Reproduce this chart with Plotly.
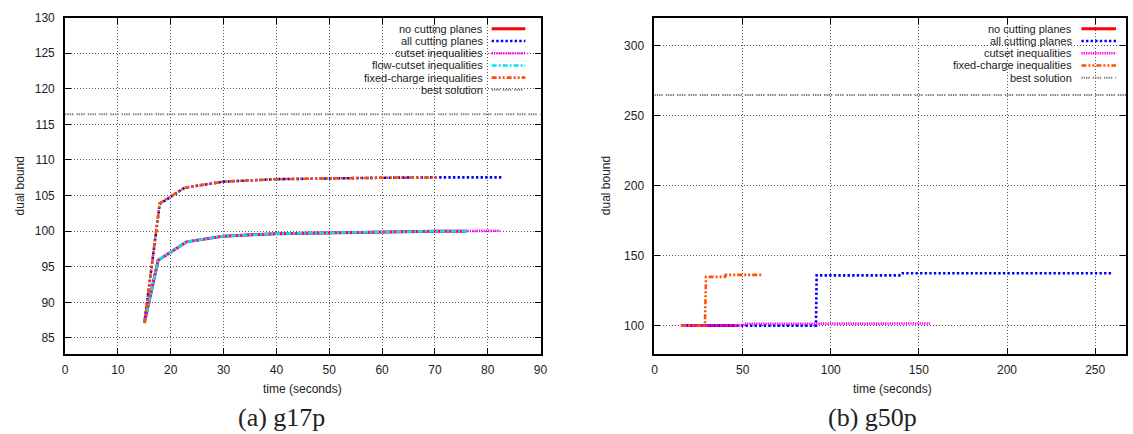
import plotly.graph_objects as go

W, H = 1133, 434

# ---------------- data: (a) g17p ----------------
a_no_cut_t = [15.0, 17.6, 23.0, 30.0, 40.0, 50.0, 60.0, 70.0, 76.0]
a_no_cut_v = [87.1, 95.9, 98.5, 99.3, 99.65, 99.8, 99.9, 100.0, 100.0]
a_all_t = [15.0, 17.9, 22.6, 30.0, 40.0, 50.0, 60.0, 70.0, 82.8]
a_all_v = [87.1, 103.8, 106.1, 106.95, 107.3, 107.45, 107.5, 107.55, 107.55]
a_cutset_t = [15.0, 17.6, 23.0, 30.0, 40.0, 50.0, 60.0, 70.0, 82.4]
a_cutset_v = [87.1, 95.9, 98.5, 99.3, 99.65, 99.8, 99.9, 100.0, 100.05]
a_flow_t = [15.0, 17.6, 23.0, 30.0, 40.0, 50.0, 60.0, 70.0, 76.0]
a_flow_v = [87.1, 95.9, 98.5, 99.3, 99.65, 99.8, 99.9, 100.0, 100.0]
a_fixed_t = [15.0, 17.9, 22.6, 30.0, 40.0, 50.0, 60.0, 70.4]
a_fixed_v = [87.1, 103.9, 106.1, 106.95, 107.3, 107.45, 107.5, 107.55]
a_best = 116.4
a_xrange = [0, 90]
a_yrange = [82.8, 130]
a_yticks = [85, 90, 95, 100, 105, 110, 115, 120, 125, 130]

# ---------------- data: (b) g50p ----------------
b_no_cut_t = [15.0, 46.0]
b_no_cut_v = [100.0, 100.0]
b_all_t = [15.0, 91.6, 92.0, 140.0, 140.8, 260.2]
b_all_v = [100.0, 100.0, 135.9, 135.9, 137.4, 137.4]
b_cutset_t = [15.0, 50.0, 51.0, 156.6]
b_cutset_v = [100.0, 100.2, 101.3, 101.5]
b_fixed_t = [15.2, 28.6, 29.2, 40.0, 40.4, 60.6]
b_fixed_v = [100.0, 100.0, 134.8, 134.8, 136.2, 136.2]
b_best = 264.7
b_xrange = [0, 267.5]
b_yrange = [80, 320]
b_yticks = [100, 150, 200, 250, 300]

legend_a = ["no cutting planes", "all cutting planes", "cutset inequalities",
            "flow-cutset inequalities", "fixed-charge inequalities", "best solution"]
legend_b = ["no cutting planes", "all cutting planes", "cutset inequalities",
            "fixed-charge inequalities", "best solution"]

captions = ["(a) g17p", "(b) g50p"]

# ---------------- styles ----------------
STY = {
    "no cutting planes": dict(color="#ff0000", width=3, dash="solid"),
    "all cutting planes": dict(color="#0000ff", width=2.6, dash="2.4px,2.2px"),
    "cutset inequalities": dict(color="#ff00ff", width=2.6, dash="1.3px,1px"),
    "flow-cutset inequalities": dict(color="#00e5ee", width=2.6, dash="5px,2px,2px,2px"),
    "fixed-charge inequalities": dict(color="#ff5000", width=2.6, dash="5px,2px,2px,2px,2px,2px"),
    "best solution": dict(color="#808080", width=2,
                          dash="1.4px,0.9px,1.4px,0.9px,1.4px,0.9px,1.4px,3px"),
}

FONT = "Liberation Sans, Arial, sans-serif"


def px(x):
    return x / W


def py(y):
    return 1 - y / H


fig = go.Figure()


def add(name, t, v, xa, ya):
    s = STY[name]
    fig.add_trace(go.Scatter(x=t, y=v, mode="lines", name=name, showlegend=False,
                             xaxis=xa, yaxis=ya,
                             line=dict(color=s["color"], width=s["width"], dash=s["dash"])))


# panel a (gnuplot draw order)
add("no cutting planes", a_no_cut_t, a_no_cut_v, "x", "y")
add("all cutting planes", a_all_t, a_all_v, "x", "y")
add("cutset inequalities", a_cutset_t, a_cutset_v, "x", "y")
add("flow-cutset inequalities", a_flow_t, a_flow_v, "x", "y")
add("fixed-charge inequalities", a_fixed_t, a_fixed_v, "x", "y")
add("best solution", a_xrange, [a_best, a_best], "x", "y")

# panel b
add("no cutting planes", b_no_cut_t, b_no_cut_v, "x2", "y2")
add("all cutting planes", b_all_t, b_all_v, "x2", "y2")
add("cutset inequalities", b_cutset_t, b_cutset_v, "x2", "y2")
add("fixed-charge inequalities", b_fixed_t, b_fixed_v, "x2", "y2")
add("best solution", b_xrange, [b_best, b_best], "x2", "y2")

axis_common = dict(
    showline=True, linecolor="black", linewidth=2, mirror="ticks",
    ticks="inside", ticklen=6, tickwidth=1.3, tickcolor="black",
    showgrid=True, gridcolor="#555555", gridwidth=1, griddash="1px,2px",
    zeroline=False, tickfont=dict(family=FONT, size=12, color="#222222"),
)

A_L, A_R = 62.7, 542.3
B_L, B_R = 657.3, 1133
TOP, BOT = 10.7, 352.3

fig.update_layout(
    width=W, height=H, autosize=False,
    margin=dict(l=0, r=0, t=0, b=0),
    paper_bgcolor="white", plot_bgcolor="white",
    xaxis=dict(domain=[px(A_L), px(A_R)], range=a_xrange, dtick=10, tick0=0,
               anchor="y", ticklabelstandoff=4, **axis_common),
    yaxis=dict(domain=[py(BOT), py(TOP)], range=a_yrange, tickvals=a_yticks,
               anchor="x", ticklabelstandoff=6, **axis_common),
    xaxis2=dict(domain=[px(B_L), px(B_R)], range=b_xrange, dtick=50, tick0=0,
                anchor="y2", ticklabelstandoff=4, **axis_common),
    yaxis2=dict(domain=[py(BOT), py(TOP)], range=b_yrange, tickvals=b_yticks,
                anchor="x2", ticklabelstandoff=6, **axis_common),
)

shapes = []
annotations = []

# white legend boxes (cover grid)
shapes.append(dict(type="rect", xref="paper", yref="paper", layer="between",
                   x0=px(323), x1=px(A_R - 2), y0=py(88), y1=py(TOP + 1.5),
                   fillcolor="white", line=dict(width=0)))
shapes.append(dict(type="rect", xref="paper", yref="paper", layer="between",
                   x0=px(918), x1=px(B_R), y0=py(76), y1=py(TOP + 1.5),
                   fillcolor="white", line=dict(width=0)))

LEG_STEP = 12.4


def legend(names, text_right, s0, s1, y0):
    for i, n in enumerate(names):
        yy = y0 + LEG_STEP * i
        annotations.append(dict(x=px(text_right), y=py(yy), xref="paper", yref="paper",
                                text=n, showarrow=False, xanchor="right", yanchor="middle",
                                borderpad=0,
                                font=dict(family=FONT, size=11, color="#222222")))
        s = STY[n]
        shapes.append(dict(type="line", xref="paper", yref="paper", layer="above",
                           x0=px(s0), x1=px(s1), y0=py(yy), y1=py(yy),
                           line=dict(color=s["color"], width=s["width"], dash=s["dash"])))


legend(legend_a, 485, 493, 527, 22.2)
legend(legend_b, 1080, 1088, 1123, 22.2)

# axis titles
for xc in (17, 608):
    annotations.append(dict(x=px(xc), y=py((TOP + BOT) / 2), xref="paper", yref="paper",
                            text="dual bound", textangle=-90, showarrow=False,
                            xanchor="center", yanchor="middle",
                            font=dict(family=FONT, size=12, color="#222222")))
for xc in ((A_L + A_R) / 2, 897):
    annotations.append(dict(x=px(xc), y=py(388), xref="paper", yref="paper",
                            text="time (seconds)", showarrow=False,
                            xanchor="center", yanchor="middle",
                            font=dict(family=FONT, size=12, color="#222222")))

# captions
for xc, cap in zip((281, 877), captions):
    annotations.append(dict(x=px(xc), y=py(417), xref="paper", yref="paper",
                            text=cap, showarrow=False, xanchor="center", yanchor="middle",
                            font=dict(family="Liberation Serif, DejaVu Serif, serif",
                                      size=26, color="#222222")))

fig.update_layout(shapes=shapes, annotations=annotations)

fig.write_html(
    "out.html",
    post_script="document.body.style.margin='0';document.body.style.overflow='hidden';",
)
